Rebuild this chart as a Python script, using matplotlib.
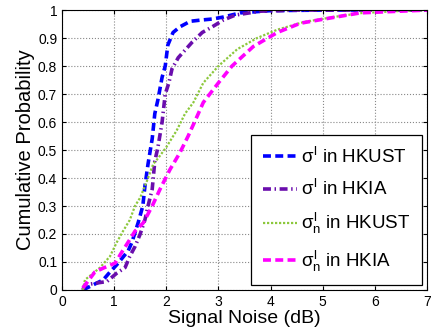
import numpy as np
import matplotlib
matplotlib.use("Agg")
import matplotlib.pyplot as plt

plt.rcParams['font.family'] = ['Liberation Sans', 'DejaVu Sans']
plt.rcParams['mathtext.fontset'] = 'custom'
plt.rcParams['mathtext.rm'] = 'Liberation Sans'
plt.rcParams['mathtext.it'] = 'Liberation Sans'

# sigma^l in HKUST
x_ust_l = [0.40, 0.79, 0.92, 1.05, 1.27, 1.34, 1.46, 1.55, 1.59, 1.65, 1.73, 1.78, 1.84,
           1.92, 1.98, 2.03, 2.13, 2.26, 2.46, 2.65, 2.88, 3.09, 3.42, 4.0, 5.0, 7.0]
y_ust_l = [0.0, 0.036, 0.064, 0.09, 0.14, 0.17, 0.24, 0.30, 0.37, 0.45, 0.54, 0.63, 0.68,
           0.76, 0.80, 0.875, 0.92, 0.94, 0.96, 0.964, 0.968, 0.975, 0.99, 0.998, 1.0, 1.0]
# sigma^l in HKIA
x_ia_l = [0.40, 0.44, 0.67, 0.86, 1.05, 1.21, 1.30, 1.40, 1.50, 1.59, 1.65, 1.73, 1.78, 1.84,
          1.92, 1.98, 2.05, 2.11, 2.23, 2.50, 2.69, 2.88, 3.09, 3.32, 3.80, 4.5, 7.0]
y_ia_l = [0.0, 0.018, 0.025, 0.03, 0.06, 0.08, 0.12, 0.155, 0.20, 0.25, 0.30, 0.36, 0.46, 0.51,
          0.60, 0.70, 0.74, 0.79, 0.83, 0.886, 0.92, 0.94, 0.964, 0.982, 0.996, 1.0, 1.0]
# sigma^l_n in HKUST
x_ust_n = [0.40, 0.44, 0.73, 0.92, 1.05, 1.17, 1.30, 1.40, 1.50, 1.63, 1.75, 1.84, 2.0, 2.2,
           2.36, 2.52, 2.71, 3.0, 3.36, 3.74, 4.13, 4.63, 5.2, 5.72, 6.4, 7.0]
y_ust_n = [0.0, 0.036, 0.08, 0.12, 0.17, 0.21, 0.25, 0.30, 0.33, 0.39, 0.45, 0.47, 0.51, 0.57,
           0.63, 0.67, 0.74, 0.80, 0.86, 0.90, 0.93, 0.957, 0.975, 0.989, 0.996, 1.0]
# sigma^l_n in HKIA
x_ia_n = [0.40, 0.63, 0.79, 1.02, 1.15, 1.30, 1.40, 1.56, 1.73, 1.88, 2.07, 2.26, 2.42, 2.59,
          2.71, 3.0, 3.26, 3.67, 4.13, 4.57, 5.09, 5.72, 6.35, 7.0]
y_ia_n = [0.007, 0.064, 0.078, 0.096, 0.136, 0.18, 0.21, 0.24, 0.30, 0.36, 0.43, 0.49, 0.55, 0.62,
          0.67, 0.74, 0.80, 0.87, 0.92, 0.953, 0.97, 0.99, 0.995, 1.0]

labels = [r'$\sigma^l$ in HKUST', r'$\sigma^l$ in HKIA',
          r'$\sigma^l_n$ in HKUST', r'$\sigma^l_n$ in HKIA']

fig = plt.figure(figsize=(4.35, 3.36), dpi=100)
ax = fig.add_axes([0.1425, 0.137, 0.8391, 0.833])

ax.plot(x_ust_l, y_ust_l, color='#0000FF', lw=2.6, ls=(0, (2.2, 1.2)), label=labels[0])
ax.plot(x_ia_l, y_ia_l, color='#6A0DAD', lw=2.6, ls=(0, (2.2, 1.0, 0.4, 1.0)), label=labels[1])
ax.plot(x_ust_n, y_ust_n, color='#8CC83C', lw=1.6, ls=(0, (1, 0.8)), label=labels[2])
ax.plot(x_ia_n, y_ia_n, color='#FF00FF', lw=2.6, ls=(0, (2.2, 1.2)), label=labels[3])

ax.set_xlim(0, 7)
ax.set_ylim(0, 1)
ax.set_xticks(range(0, 8))
ax.set_yticks(np.arange(0, 1.01, 0.1))
ax.set_yticklabels(['0', '0.1', '0.2', '0.3', '0.4', '0.5', '0.6', '0.7', '0.8', '0.9', '1'])
ax.tick_params(direction='in', top=True, right=True, labelsize=10, length=3)
ax.grid(True, ls=':', color='#888888', lw=0.8)
ax.set_xlabel('Signal Noise (dB)', fontsize=14, labelpad=1)
ax.set_ylabel('Cumulative Probability', fontsize=14.5, labelpad=2)

leg = ax.legend(loc='lower right', bbox_to_anchor=(0.986, 0.018), borderaxespad=0,
                fontsize=13.5, handlelength=1.85, labelspacing=0.65, fancybox=False,
                framealpha=1, edgecolor='black', handletextpad=0.2, borderpad=0.6)
leg.get_frame().set_linewidth(0.9)

fig.savefig('out.png', dpi=100)
